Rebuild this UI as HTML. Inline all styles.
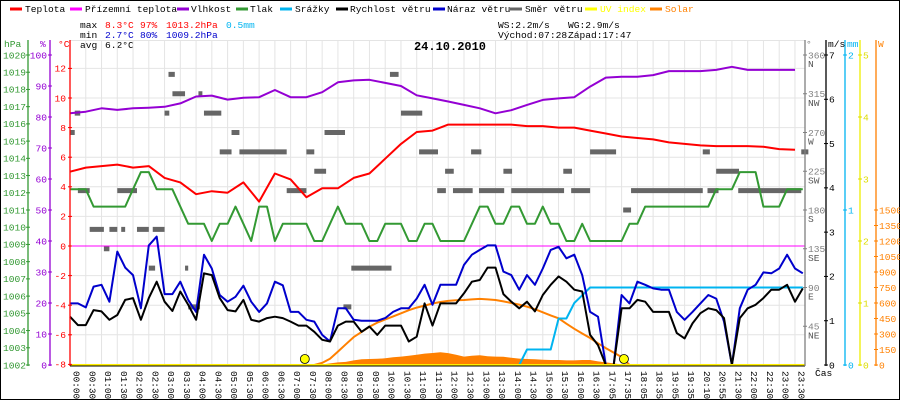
<!DOCTYPE html>
<html><head><meta charset="utf-8"><style>
html,body{margin:0;padding:0;background:#fff}
svg{display:block;font-family:"Liberation Mono",monospace}
</style></head><body>
<svg id="chart" width="900" height="400" viewBox="0 0 900 400" xmlns="http://www.w3.org/2000/svg">
<rect x="0.5" y="0.5" width="899" height="399" fill="#fff" stroke="#000"/>
<g font-size="9.6">
 <line x1="10" y1="9" x2="22" y2="9" stroke="#f00" stroke-width="3"/><text x="25" y="12">Teplota</text>
 <line x1="70" y1="9" x2="82" y2="9" stroke="#f0f" stroke-width="3"/><text x="85" y="12">Přízemní teplota</text>
 <line x1="177" y1="9" x2="189" y2="9" stroke="#9400d3" stroke-width="3"/><text x="191" y="12">Vlhkost</text>
 <line x1="236" y1="9" x2="248" y2="9" stroke="#339933" stroke-width="3"/><text x="250" y="12">Tlak</text>
 <line x1="280" y1="9" x2="292" y2="9" stroke="#00b4f0" stroke-width="3"/><text x="295" y="12">Srážky</text>
 <line x1="336" y1="9" x2="348" y2="9" stroke="#000" stroke-width="3"/><text x="350" y="12">Rychlost větru</text>
 <line x1="433" y1="9" x2="445" y2="9" stroke="#0000cc" stroke-width="3"/><text x="447" y="12">Náraz větru</text>
 <line x1="510" y1="9" x2="522" y2="9" stroke="#666" stroke-width="3"/><text x="525" y="12">Směr větru</text>
 <line x1="585" y1="9" x2="597" y2="9" stroke="#ff0" stroke-width="3"/><text x="600" y="12" fill="#ff0">UV index</text>
 <line x1="650" y1="9" x2="662" y2="9" stroke="#ff8000" stroke-width="3"/><text x="665" y="12" fill="#ff8000">Solar</text>
</g>
<g font-size="9.6">
 <text x="80" y="28">max</text><text x="105" y="28" fill="#f00">8.3°C</text><text x="140" y="28" fill="#f00">97%</text><text x="166" y="28" fill="#f00">1013.2hPa</text><text x="226" y="28" fill="#00b4f0">0.5mm</text>
 <text x="80" y="38">min</text><text x="105" y="38" fill="#0000cc">2.7°C</text><text x="140" y="38" fill="#0000cc">80%</text><text x="166" y="38" fill="#0000cc">1009.2hPa</text>
 <text x="80" y="48">avg</text><text x="105" y="48">6.2°C</text>
 <text x="498" y="28">WS:2.2m/s</text><text x="568" y="28">WG:2.9m/s</text>
 <text x="498" y="38">Východ:07:28</text><text x="568" y="38">Západ:17:47</text>
</g>
<g id="grid"></g>
<g id="plot"></g>
<g id="axes"></g>
<text x="450" y="50" font-size="12" font-weight="bold" text-anchor="middle">24.10.2010</text>
</svg>
<script>
// ---- data (index h = half-label sample) ----
const timeLabels = ["00:00","00:30","01:00","01:30","02:00","02:30","03:00","03:30","04:00","04:30","05:00","05:30","06:00","06:30","07:00","07:30","08:00","08:30","09:00","09:30","10:00","10:30","11:00","11:30","12:00","12:30","13:00","13:30","14:00","14:30","15:00","15:30","16:00","16:30","17:05","17:35","18:05","18:35","19:05","19:35","20:10","20:55","21:30","22:00","22:30","23:00","23:30"];
const temperature = [5.02,5.3,5.4,5.5,5.3,5.4,4.6,4.3,3.5,3.7,3.6,4.3,3.0,4.9,4.5,3.3,3.9,3.9,4.6,4.9,5.9,6.9,7.7,7.8,8.2,8.2,8.2,8.2,8.2,8.1,8.1,8.0,8.0,7.8,7.6,7.4,7.3,7.2,7.0,6.9,6.8,6.75,6.75,6.75,6.7,6.55,6.5];
const humidity = [81.2,81.7,82.8,82.3,82.8,83,83.3,84.4,86.6,86.9,85.6,86.2,86.4,88.7,86.4,86.4,88,91.2,91.8,92,91,90,87,86,85,83.9,82.8,81.2,82.2,83.9,85.5,86,86.4,89.8,92.7,93,93,93.5,94.8,94.8,94.8,95.2,96.2,95.2,95.2,95.2,95.2];
const groundTemp = [0,0];
const pressure = [1012.2,1012.2,1012.2,1011.2,1011.2,1011.2,1011.2,1011.2,1012.2,1013.2,
1013.2,1012.2,1012.2,1012.2,1011.2,1010.2,1010.2,1010.2,1009.2,1010.2,
1010.2,1011.2,1010.2,1009.2,1011.2,1011.2,1009.2,1010.2,1010.2,1010.2,
1010.2,1009.2,1009.2,1010.2,1011.2,1010.2,1010.2,1010.2,1009.2,1009.2,
1010.2,1010.2,1010.2,1009.2,1009.2,1010.2,1010.2,1009.2,1009.2,1009.2,
1009.2,1010.2,1011.2,1011.2,1010.2,1010.2,1011.2,1011.2,1010.2,1010.2,
1011.2,1010.2,1010.2,1009.2,1009.2,1010.2,1009.2,1009.2,1009.2,1009.2,
1009.2,1010.2,1010.2,1011.2,1011.2,1011.2,1011.2,1011.2,1011.2,1011.2,
1011.2,1011.2,1012.2,1012.2,1012.2,1013.2,1013.2,1013.2,1011.2,1011.2,
1011.2,1012.2,1012.2,1012.2];
const windGust = [1.39,1.39,1.3,1.77,1.81,1.43,2.56,2.2,2.03,1.28,
2.7,2.9,1.6,1.6,1.88,1.47,1.2,2.49,2.18,1.58,
1.43,1.54,1.79,1.43,1.2,1.39,1.88,1.8,1.2,1.2,
1.02,0.98,0.68,0.53,1.28,1.28,1.02,1.0,1.0,1.0,
1.06,1.2,1.28,1.28,1.5,1.81,1.36,1.81,1.81,1.81,
2.26,2.49,2.6,2.7,2.7,2.11,2.03,1.7,2.03,1.81,
2.18,2.6,2.67,2.41,2.49,2.03,1.2,1.09,0,0,
1.58,1.39,1.88,1.81,1.73,1.7,1.7,1.2,1.02,1.2,
1.39,1.58,1.5,0.98,0,1.28,1.7,1.81,2.09,2.07,
2.18,2.49,2.18,2.07];
const windSpeed = [1.09,0.9,0.9,1.24,1.21,1.02,1.13,1.47,1.51,1.02,
1.51,1.88,1.43,1.22,1.66,1.36,1.02,2.07,2.03,1.51,
1.24,1.21,1.47,1.02,0.98,1.06,1.09,1.06,0.98,0.89,
0.89,0.75,0.57,0.53,0.89,0.98,0.98,0.75,0.87,0.68,
0.89,0.89,0.89,0.53,0.64,1.39,0.89,1.39,1.39,1.39,
1.62,1.88,1.92,2.2,2.2,1.6,1.43,1.28,1.43,1.21,
1.58,1.81,2.0,1.88,1.7,1.66,0.68,0.45,0,0,
1.28,1.28,1.47,1.43,1.2,1.2,1.2,0.72,0.6,0.94,
1.17,1.28,1.24,1.06,0,1.06,1.28,1.36,1.51,1.7,
1.7,1.81,1.43,1.73];
const rain = [0,0,0,0,0,0,0,0,0,0, 0,0,0,0,0,0,0,0,0,0, 0,0,0,0,0,0,0,0,0,0,
0,0,0,0,0,0,0,0,0,0, 0,0,0,0,0,0,0,0,0,0, 0,0,0,0,0,0,0,0,0.1,0.1,
0.1,0.1,0.3,0.3,0.4,0.45,0.5,0.5,0.5,0.5, 0.5,0.5,0.5,0.5,0.5,0.5,0.5,0.5,0.5,0.5,
0.5,0.5,0.5,0.5,0.5,0.5,0.5,0.5,0.5,0.5, 0.5,0.5,0.5,0.5];
const solarTheory = [0,0,0,0,0,0,0,0,0,0, 0,0,0,0,0,0,0,0,0,0, 0,0,0,0,0,0,0,0,0,0,
0,0,20,60,130,200,270,320,370,410, 440,470,500,530,555,575,595,610,620,627,
629,635,640,635,629,615,600,585,564,540, 510,480,452,400,350,305,261,210,164,120,
77,0,0,0,0,0,0,0,0,0, 0,0,0,0,0,0,0,0,0,0, 0,0,0,0];
const solarMeasured = [0,0,0,0,0,0,0,0,0,0, 0,0,0,0,0,0,0,0,0,0, 0,0,0,0,0,0,0,0,0,0,
0,0,5,15,25,30,45,55,58,60, 65,75,81,90,100,110,116,123,115,100,
81,90,95,85,81,80,70,62,58,55, 50,48,48,45,45,48,48,35,25,15,
5,0,0,0,0,0,0,0,0,0, 0,0,0,0,0,0,0,0,0,0, 0,0,0,0];
const uvIndex = [0,0];
const dirFrom = [0,0.6,1,2.5,4.3,5,6,6.5,8.5,10,10.5,12,12.5,13,14.6,15,16.3,17,19,20.5,21.5,27.5,30,31,32.3,34.7,35.7,40.6,42,44.3,46.6,47.6,48.6,50.9,51.9,55,56,62.6,63.6,66,70.2,71.2,80.3,80.9,82,84.8,92.8];
const dirTo   = [0.6,1.3,2.5,4.3,5,6,8.5,7,10,10.8,12,12.6,13.3,14.6,15,16.5,16.8,19.2,20.5,21.5,27.5,30,31,32.5,34.9,35.7,40.8,41.7,44.7,46.7,47.7,48.7,51.1,52.2,55.1,56.1,62.7,63.7,66,69.3,71.2,80.3,81.2,82.3,84.9,92.8,93.7];
const dirDeg  = [270,292.5,202.5,157.5,135,157.5,202.5,157.5,157.5,112.5,157.5,292.5,337.5,315,112.5,67.5,315,292.5,247.5,270,247.5,202.5,247.5,225,270,67.5,112.5,337.5,292.5,247.5,202.5,225,202.5,247.5,202.5,225,202.5,225,202.5,247.5,180,202.5,247.5,202.5,225,202.5,247.5];
const sunEvents = [29.8,70.3];

// ---- axis functions ----
const X0=70, X1=805, Y0=365, YTOP=40;
const xH = h => X0 + h*7.88;
const xK = k => X0 + k*15.76;
const yT = t => 246 - 14.8*t;
const yHum = v => 365 - 3.1*v;
const yP = p => 55 + (1020-p)*17.222;
const yV = v => 365 - v*44.286;
const yD = d => 365 - d*310/360;
const yMM = m => 365 - m*155;
const yW = w => 365 - w*310/3000;
const yUV = u => 365 - u*62;

const NS="http://www.w3.org/2000/svg";
const grid=document.getElementById('grid'), plot=document.getElementById('plot'), axes=document.getElementById('axes');
function mk(parent, tag, attrs, txt){const e=document.createElementNS(NS,tag);for(const k in attrs)e.setAttribute(k,attrs[k]);if(txt!==undefined)e.textContent=txt;parent.appendChild(e);return e;}

// grid
for(let k=0;k<timeLabels.length;k++){
  const g=mk(grid,'line',{x1:xK(k),x2:xK(k),y1:YTOP,y2:Y0,stroke:'#e4e4e4','stroke-width':1});
  
  
  const t=mk(axes,'text',{x:0,y:0,'font-size':9.4,transform:`translate(${xK(k)+3.5},371) rotate(90)`},timeLabels[k]);
  
  
}
for(let t=-8;t<=12;t+=2){
  const g=mk(grid,'line',{x1:X0,x2:X1,y1:yT(t),y2:yT(t),stroke:'#e4e4e4','stroke-width':1});
  
  
}
const gt=mk(grid,'line',{x1:X0,x2:X1,y1:YTOP+0.5,y2:YTOP+0.5,stroke:'#e4e4e4'});



function poly(vals, xf, yf, color, w, name){
  const pts=vals.map((v,i)=>xf(i).toFixed(1)+','+yf(v).toFixed(1)).join(' ');
  const p=mk(plot,'polyline',{points:pts,fill:'none',stroke:color,'stroke-width':w,'stroke-linejoin':'round'});
  return p;
}
// solar measured area
{
  let d='M'+xH(0)+','+yW(0);
  solarMeasured.forEach((v,i)=>{d+=' L'+xH(i).toFixed(1)+','+yW(v).toFixed(1);});
  d+=' L'+xH(solarMeasured.length-1)+','+yW(0)+' Z';
  const a=mk(plot,'path',{d:d,fill:'#ff8000',stroke:'none'});
  
  
}
// wind direction bars
for(let i=0;i<dirDeg.length;i++){
  const r=mk(plot,'rect',{x:xH(dirFrom[i]),y:yD(dirDeg[i])-2.5,width:xH(dirTo[i])-xH(dirFrom[i]),height:5,fill:'#666'});
  
  
}
let e;
e=poly(pressure,xH,yP,'#339933',2);


e=poly(groundTemp,i=>i?X1:X0,yT,'#ff00ff',1);


e=poly(solarTheory,xH,yW,'#ff8000',2);


e=poly(rain,xH,yMM,'#00b4f0',2);


e=poly(windGust,xH,yV,'#0000cc',2);


e=poly(windSpeed,xH,yV,'#000',2);


e=poly(humidity,xK,yHum,'#9400d3',2);


e=poly(temperature,xK,yT,'#ff0000',2);


e=poly(uvIndex,i=>i?X1:X0,yUV,'#ffee00',2);


sunEvents.forEach(h=>{
  const c=mk(plot,'circle',{cx:xH(h),cy:359,r:4.5,fill:'#ff0',stroke:'#000','stroke-width':0.8});
  
  
});

// axes
function vAxis(x,color,name){
  const l=mk(axes,'line',{x1:x,x2:x,y1:YTOP,y2:Y0+1,stroke:color,'stroke-width':1.3});
  
  
}
function tick(x,y,color,label,tx,anchor,name){
  const t=mk(axes,'line',{x1:x-2,x2:x+2,y1:y,y2:y,stroke:color});
  
  
  const s=mk(axes,'text',{x:tx,y:y+3.3,fill:color,'font-size':9.6,'text-anchor':anchor},label);
  
  
}
vAxis(28,'#339933','pressure-axis');
for(let p=1002;p<=1020;p++) tick(28,yP(p),'#339933',String(p),26,'end','pressure-axis');
vAxis(50,'#9400d3','humidity-axis');
for(let h=0;h<=100;h+=10) tick(50,yHum(h),'#9400d3',String(h),47,'end','humidity-axis');
vAxis(70,'#ff0000','temperature-axis');
for(let t=-8;t<=12;t+=2) tick(70,yT(t),'#ff0000',String(t),66,'end','temperature-axis');
const bottom=mk(axes,'line',{x1:X0,x2:X1,y1:366,y2:366,stroke:'#000'});


vAxis(805,'#808080','direction-axis');
const dirNames={360:'N',315:'NW',270:'W',225:'SW',180:'S',135:'SE',90:'E',45:'NE'};
for(let d=45;d<=360;d+=45){
  tick(805,yD(d),'#808080',String(d),808,'start','direction-axis');
  const s=mk(axes,'text',{x:808,y:yD(d)+12,fill:'#555','font-size':9.6},dirNames[d]);
  
  
}
vAxis(826,'#000','wind-axis');
for(let v=0;v<=7;v++) tick(826,yV(v),'#000',String(v),829,'start','wind-axis');
vAxis(845,'#00b4f0','rain-axis');
for(let m=0;m<=2;m++) tick(845,yMM(m),'#00b4f0',String(m),848,'start','rain-axis');
vAxis(860,'#eeee00','uv-axis');
for(let u=0;u<=5;u++) tick(860,yUV(u),'#dddd00',String(u),863,'start','uv-axis');
vAxis(876,'#ff8000','solar-axis');
for(let w=0;w<=1500;w+=150) tick(876,yW(w),'#ff8000',String(w),879,'start','solar-axis');
const heads=[[4,'hPa','#339933'],[40,'%','#9400d3'],[58,'°C','#ff0000'],[806,'°','#808080'],[828,'m/s','#000'],[847,'mm','#00b4f0'],[878,'W','#ff8000']];
heads.forEach(h=>{
  const s=mk(axes,'text',{x:h[0],y:47,fill:h[2],'font-size':9.6},h[1]);
  
  
});
const cas=mk(axes,'text',{x:815,y:376,'font-size':9.6},'Čas');


</script>
</body></html>
